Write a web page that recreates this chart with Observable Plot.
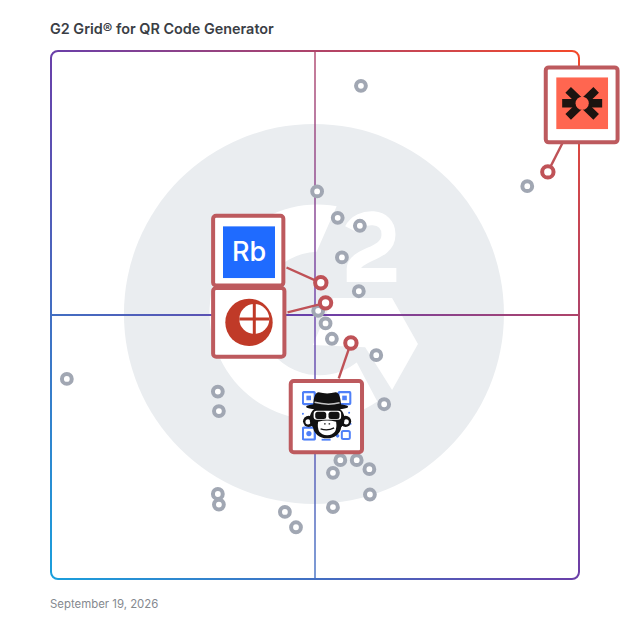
<!DOCTYPE html>
<html>
<head>
<meta charset="utf-8">
<script src="https://cdn.jsdelivr.net/npm/d3@7"></script>
<script src="https://cdn.jsdelivr.net/npm/@observablehq/plot@0.6"></script>
<style>
  html, body { margin: 0; padding: 0; background: #fff; width: 628px; height: 628px; overflow: hidden; }
  #title { height: 40px; box-sizing: border-box; padding: 20px 0 0 50px; font: 600 14.4px/18px Inter, sans-serif; color: #3a3e45; }
  #caption { height: 40px; box-sizing: border-box; padding: 8px 0 0 50px; font: 400 11.4px/16px Inter, sans-serif; color: #85898f; }
  svg { display: block; }
</style>
</head>
<body>
<div id="title">G2 Grid® for QR Code Generator</div>
<div id="chart"></div>
<div id="caption">September 19, 2026</div>
<script>
const otherX = [58.7, 90.2, 50.4, 54.3, 58.5, 55.1, 58.3, 50.6, 52.0, 53.2, 61.6, 3.0, 31.6, 31.8, 63.1, 54.8, 57.9, 60.3, 53.4, 60.4, 31.6, 31.8, 44.3, 53.4, 46.4];
const otherY = [93.4, 74.4, 73.4, 68.4, 66.9, 60.9, 54.5, 50.8, 48.4, 45.5, 42.4, 37.9, 35.5, 31.8, 33.1, 22.5, 22.5, 20.8, 20.1, 16.0, 16.1, 14.1, 12.7, 13.6, 9.8];

const featuredName = ["Rb", "Red", "Monkey", "Coral"];
const featuredX = [51.1, 52.0, 56.8, 94.1];
const featuredY = [56.1, 52.3, 44.7, 77.1];
const leaderX = [44.6, 44.8, 54.5, 97.0];
const leaderY = [59.0, 50.5, 38.0, 82.8];
const cardX1 = [30.8, 30.8, 45.5, 93.8];
const cardX2 = [44.1, 44.3, 59.0, 107.4];
const cardY1 = [55.5, 42.0, 23.9, 82.6];
const cardY2 = [68.7, 55.0, 37.4, 96.8];
const logoX = [37.5, 37.5, 52.2, 100.6];
const logoY = [61.9, 48.6, 30.9, 90.1];

const chevronX = [53.4, 64.6, 69.5, 64.6, 59.5, 49.6];
const chevronY = [53.2, 53.2, 44.5, 35.8, 43.9, 44.3];

const svgUri = (size, body) => "data:image/svg+xml," + encodeURIComponent(
  `<svg xmlns="http://www.w3.org/2000/svg" viewBox="0 0 ${size} ${size}" width="${size}" height="${size}">${body}</svg>`);

const logoRb = svgUri(52, `<rect width="52" height="52" fill="#1f6bff"/>`);
const logoRed = svgUri(52, `
  <circle cx="26" cy="26" r="23.7" fill="#c03a28"/>
  <circle cx="31.3" cy="22.6" r="15" fill="#fff"/>
  <path d="M31.3 7.6V37.6M16.3 22.6H46.3" stroke="#c03a28" stroke-width="3"/>`);
const logoCoral = svgUri(52, `
  <rect width="52" height="52" fill="#ff6650"/>
  <path d="M6 26H46" stroke="#1c1410" stroke-width="8.5" fill="none"/>
  <path d="M26 26L12 12.5M26 26L40 12.5M26 26L12 39.5M26 26L40 39.5" stroke="#1c1410" stroke-width="8" fill="none"/>
  <circle cx="26" cy="26" r="6.6" fill="#ff6650"/>`);
const logoMonkey = svgUri(50, `
  <g fill="none" stroke="#4f80f8" stroke-width="2.3">
    <rect x="1.2" y="1.2" width="12" height="12" rx="1.5"/>
    <rect x="36.8" y="1.2" width="12" height="12" rx="1.5"/>
    <rect x="1.2" y="36.8" width="12" height="12" rx="1.5"/>
    <rect x="40.2" y="40.2" width="8" height="8" rx="1.5" stroke-width="2"/>
    <path d="M38 33H50" stroke-width="1.6"/>
  </g>
  <g fill="#4f80f8">
    <rect x="4.8" y="4.8" width="4.6" height="4.6"/><rect x="40.6" y="4.8" width="4.6" height="4.6"/>
    <circle cx="7.3" cy="42.7" r="2.6"/><circle cx="36" cy="45" r="1.8"/>
    <circle cx="1.3" cy="23" r="1"/><circle cx="47.5" cy="22" r="1"/>
    <rect x="20" y="48" width="9" height="2"/>
  </g>
  <circle cx="7" cy="30.5" r="5.6" fill="#111"/><circle cx="44" cy="30.5" r="5.6" fill="#111"/>
  <circle cx="6.4" cy="31" r="2.6" fill="#fff"/><circle cx="44.6" cy="31" r="2.6" fill="#fff"/>
  <ellipse cx="25.5" cy="28" rx="17.5" ry="14.5" fill="#111"/>
  <ellipse cx="25.5" cy="36" rx="14" ry="11.5" fill="#111"/>
  <path d="M11.5 16Q12 1.5 17 1.5Q25.5 3.8 34 1.5Q39 1.5 39.5 16Z" fill="#111"/>
  <ellipse cx="25.5" cy="15.8" rx="21" ry="3.2" fill="#111"/>
  <path d="M13 11.5Q26 14.8 38 12" stroke="#c4c4c4" stroke-width="1.5" fill="none"/>
  <rect x="12" y="19.8" width="27.5" height="9" rx="3" fill="#fff"/>
  <rect x="13.6" y="21" width="11" height="7.2" rx="2.5" fill="#111"/>
  <rect x="26.9" y="21" width="11" height="7.2" rx="2.5" fill="#111"/>
  <path d="M16.5 31Q25.5 28.5 34.5 31Q36.5 44 25.5 44.5Q14.5 44 16.5 31Z" fill="#fff"/>
  <path d="M22.5 33h1.5M27 33h1.5" stroke="#111" stroke-width="1.2"/>
  <path d="M19 38Q26 40.5 32.5 37" stroke="#111" stroke-width="1.3" fill="none"/>`);

const logoSrc = [logoRb, logoRed, logoMonkey, logoCoral];
const logoSize = [52, 52, 50, 52];

const others = otherX.map((x, i) => ({x, y: otherY[i]}));
const featured = featuredName.map((name, i) => ({
  name, x: featuredX[i], y: featuredY[i], lx: leaderX[i], ly: leaderY[i],
  x1: cardX1[i], x2: cardX2[i], y1: cardY1[i], y2: cardY2[i],
  ix: logoX[i], iy: logoY[i], src: logoSrc[i], size: logoSize[i]
}));
const chevron = chevronX.map((x, i) => ({x, y: chevronY[i]}));

// Gradient shared by the frame and the cross lines, running corner to corner.
const gradientDefs = (index, {x, y}) => {
  const defs = d3.create("svg:defs");
  const g = defs.append("linearGradient").attr("id", "grid-gradient")
    .attr("gradientUnits", "userSpaceOnUse")
    .attr("x1", x(0)).attr("y1", y(0)).attr("x2", x(100)).attr("y2", y(100));
  [[0, "#1a9fdc"], [0.5, "#6a3fa9"], [1, "#f4492a"]].forEach(([o, c]) =>
    g.append("stop").attr("offset", o).attr("stop-color", c));
  return defs.node();
};

// The pale G2 watermark: the ring of the G and the figure 2.
const watermark = (index, {x, y}) => {
  const g = d3.create("svg:g");
  const R = x(20.4) - x(0), r = x(11.7) - x(0);
  const p = (a, b) => `${x(a)},${y(b)}`;
  g.append("path").attr("fill", "#fff").attr("d",
    `M${p(54.2, 70.5)}A${R},${R} 0 1 0 ${p(61.9, 33.5)}L${p(58.0, 40.9)}A${r},${r} 0 1 1 ${p(50.4, 61.9)}Z`);
  g.append("path").attr("fill", "none").attr("stroke", "#fff").attr("stroke-width", 14).attr("d",
    `M${p(57.0, 66.1)}C${p(58.5, 69.1)} ${p(64.2, 69.1)} ${p(64.0, 65.0)}C${p(64.0, 61.2)} ${p(57.4, 61.6)} ${p(57.4, 58.5)}M${p(56.1, 57.5)}L${p(65.5, 57.5)}`);
  return g.node();
};

const grayRing = "#a1a7b3", redRing = "#bf5257", cardStroke = "#bd5a5e";

const chart = Plot.plot({
  width: 628,
  height: 548,
  marginLeft: 50.5,
  marginRight: 49.5,
  marginTop: 10.5,
  marginBottom: 9.5,
  x: {domain: [0, 100], axis: null},
  y: {domain: [0, 100], axis: null},
  marks: [
    gradientDefs,
    Plot.dot([{x: 49.8, y: 50.2}], {x: "x", y: "y", r: 190, fill: "#eaedf0", stroke: "none"}),
    watermark,
    Plot.line(chevron, {x: "x", y: "y", fill: "#fff", stroke: "none"}),
    Plot.ruleX([50], {y1: 0, y2: 100, stroke: "url(#grid-gradient)", strokeWidth: 2, strokeOpacity: 0.7}),
    Plot.ruleY([50], {x1: 0, x2: 100, stroke: "url(#grid-gradient)", strokeWidth: 2, strokeOpacity: 1}),
    Plot.frame({stroke: "url(#grid-gradient)", strokeWidth: 2, rx: 7}),
    Plot.dot(others, {x: "x", y: "y", r: 4.9, fill: "#fff", stroke: grayRing, strokeWidth: 4}),
    Plot.link(featured, {x1: "lx", y1: "ly", x2: "x", y2: "y", stroke: redRing, strokeWidth: 2.4}),
    Plot.dot(featured, {x: "x", y: "y", r: 5.7, fill: "#fff", stroke: redRing, strokeWidth: 4}),
    Plot.rect(featured, {x1: "x1", x2: "x2", y1: "y1", y2: "y2", fill: "#fff", stroke: cardStroke, strokeWidth: 4, rx: 3, inset: 0}),
    Plot.image(featured, {x: "ix", y: "iy", src: "src", width: "size", height: "size"}),
    Plot.text(featured.filter(d => d.name === "Rb"), {x: "ix", y: "iy", text: "name", fill: "#fff", fontFamily: "Inter, sans-serif", fontSize: 27, fontWeight: 500})
  ]
});
document.getElementById("chart").append(chart);
</script>
</body>
</html>
